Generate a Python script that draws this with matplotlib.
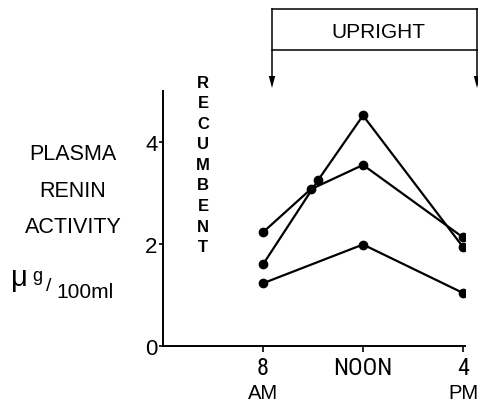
import matplotlib
matplotlib.use("Agg")
import matplotlib.pyplot as plt
from matplotlib import font_manager as fm
from matplotlib.patches import Polygon
from matplotlib.transforms import blended_transform_factory

# ---- data ----
hours_a = [8, 10.2, 12, 16]
renin_a = [1.60, 3.25, 4.52, 1.94]
hours_b = [8, 9.9, 12, 16]
renin_b = [2.23, 3.07, 3.55, 2.13]
hours_c = [8, 12, 16]
renin_c = [1.23, 1.99, 1.04]
xticks = [8, 12, 16]
xticklabels = ["8", "NOON", "4"]
xsublabels = ["AM", "", "PM"]
yticks = [0, 2, 4]
yticklabels = ["0", "2", "4"]
ylabel_lines = ["PLASMA", "RENIN", "ACTIVITY"]
recumbent = "RECUMBENT"
upright = "UPRIGHT"

W, H = 478, 406

def has_font(name):
    try:
        fm.findfont(fm.FontProperties(family=name), fallback_to_default=False)
        return True
    except Exception:
        return False

REG = "Liberation Sans" if has_font("Liberation Sans") else "DejaVu Sans"

# look for a condensed / narrow face
NARROW = dict(fontfamily=REG)
for fe in fm.fontManager.ttflist:
    low = fe.fname.lower()
    if ("narrow" in low or "condensed" in low) and "bold" not in low and "italic" not in low \
            and "oblique" not in low and "light" not in low:
        NARROW = dict(fontfamily=fe.name, fontstretch=fe.stretch)
        if "liberation" in low:
            break

plt.rcParams["font.family"] = [REG, "DejaVu Sans"]

fig = plt.figure(figsize=(W / 100, H / 100), dpi=100)

def fx(x):
    return x / W

def fy(y):
    return 1 - y / H

ax = fig.add_axes([fx(163), fy(347), 302 / W, (347 - 92) / H])
for hx, ry in [(hours_a, renin_a), (hours_b, renin_b), (hours_c, renin_c)]:
    ax.plot(hx, ry, color="black", lw=1.6, marker="o", ms=6, zorder=3)

ax.set_xlim(4, 16.08)
ax.set_ylim(0, 5)
ax.spines["top"].set_visible(False)
ax.spines["right"].set_visible(False)
for s in ("left", "bottom"):
    ax.spines[s].set_linewidth(1.4)
ax.set_xticks(xticks)
ax.set_xticklabels(xticklabels, fontsize=17.5, **NARROW)
ax.set_yticks(yticks)
ax.set_yticklabels(yticklabels, fontsize=16)
ax.tick_params(axis="x", length=4, width=1.2, pad=3)
ax.tick_params(axis="y", length=3, width=1.2, pad=1)

trans = blended_transform_factory(ax.transData, fig.transFigure)
for xv, lab in zip(xticks, xsublabels):
    if lab:
        ax.text(xv, fy(394), lab, transform=trans, ha="center", va="center",
                fontsize=14.5, clip_on=False)

# ---- y label block ----
for txt, y in zip(ylabel_lines, [155, 192, 228]):
    fig.text(fx(73), fy(y), txt, ha="center", va="center", fontsize=15.5)
fig.text(fx(11), fy(286), "\u03bc", ha="left", va="baseline", fontsize=21)
fig.text(fx(32), fy(281), "g", ha="left", va="baseline", fontsize=13)
fig.text(fx(46), fy(291), "/", ha="left", va="baseline", fontsize=14)
fig.text(fx(56), fy(298), "100ml", ha="left", va="baseline", fontsize=15)

# ---- RECUMBENT vertical ----
for i, ch in enumerate(recumbent):
    fig.text(fx(203), fy(83 + i * 20.6), ch, ha="center", va="center", fontsize=12,
             fontweight="bold")

# ---- UPRIGHT bracket ----
lc = dict(color="black", lw=1.1, transform=fig.transFigure, clip_on=False)
fig.add_artist(plt.Line2D([fx(272), fx(478)], [fy(10), fy(10)], **lc))
fig.add_artist(plt.Line2D([fx(272), fx(478)], [fy(50.5), fy(50.5)], **lc))
for xa in (272, 477):
    fig.add_artist(plt.Line2D([fx(xa), fx(xa)], [fy(10), fy(80)], **lc))
    fig.add_artist(Polygon([(fx(xa - 3.2), fy(77)), (fx(xa + 3.2), fy(77)), (fx(xa), fy(89))],
                           closed=True, facecolor="black", edgecolor="none",
                           transform=fig.transFigure))
fig.text(fx(378), fy(32), upright, ha="center", va="center", fontsize=15)

fig.savefig("out.png", dpi=100)
